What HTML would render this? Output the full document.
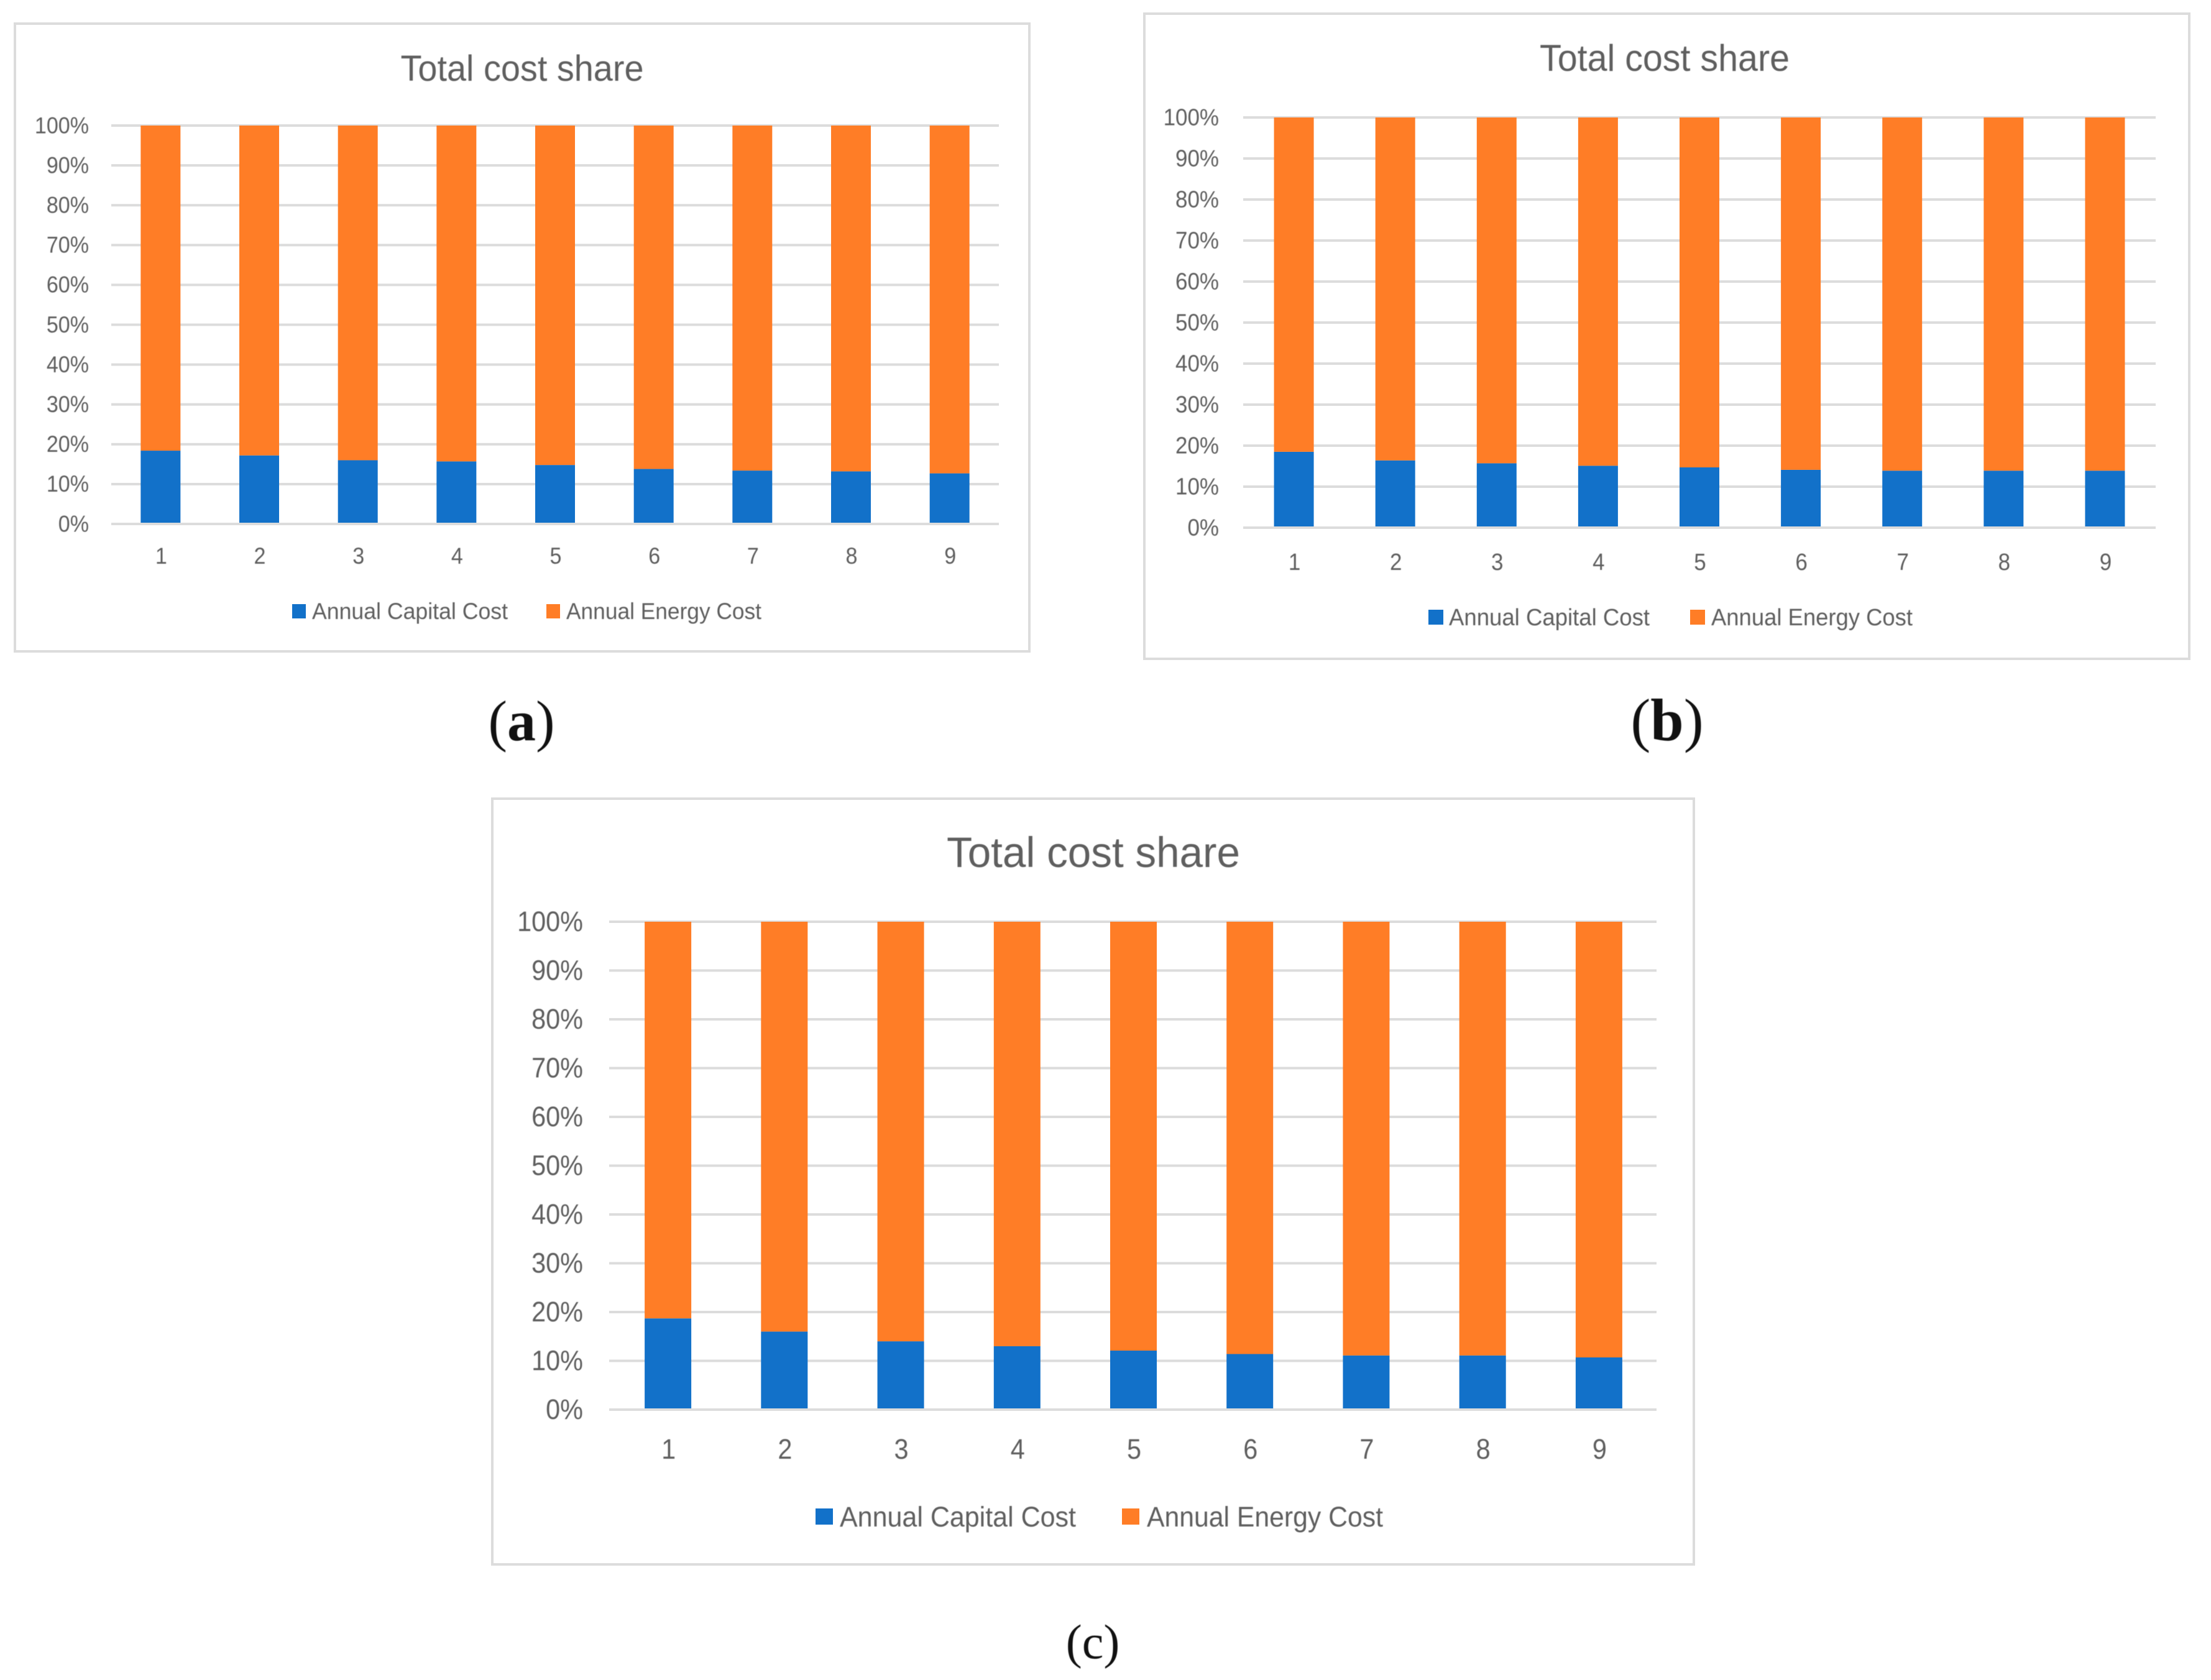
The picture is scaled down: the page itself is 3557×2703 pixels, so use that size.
<!DOCTYPE html>
<html lang="en">
<head>
<meta charset="utf-8">
<title>Total cost share</title>
<style>
html,body{margin:0;padding:0;background:#fff;width:3557px;height:2703px;overflow:hidden}
svg{display:block}
text{font-family:"Liberation Sans",sans-serif;fill:#5f5f5f;filter:blur(.6px)}
text.cap{font-family:"Liberation Serif",serif;fill:#111}
</style>
</head>
<body>
<svg id="figure" xmlns="http://www.w3.org/2000/svg" width="3557" height="2703" viewBox="0 0 3557 2703"></svg>
<script>
const categories = ['1','2','3','4','5','6','7','8','9'];
const tickValues = [0,10,20,30,40,50,60,70,80,90,100];
const tickLabels = ['0%','10%','20%','30%','40%','50%','60%','70%','80%','90%','100%'];
const capitalA = [18.4,17.2,16.0,15.7,14.8,13.8,13.4,13.2,12.7];
const energyA  = [81.6,82.8,84.0,84.3,85.2,86.2,86.6,86.8,87.3];
const capitalB = [18.5,16.4,15.7,15.1,14.7,14.1,13.9,13.9,13.9];
const energyB  = [81.5,83.6,84.3,84.9,85.3,85.9,86.1,86.1,86.1];
const capitalC = [18.7,16.0,14.0,13.0,12.1,11.4,11.1,11.1,10.7];
const energyC  = [81.3,84.0,86.0,87.0,87.9,88.6,88.9,88.9,89.3];
const seriesNames = ['Annual Capital Cost','Annual Energy Cost'];
const chartTitle = 'Total cost share';

const BLUE = '#1271c9', ORANGE = '#ff7d26', GRID = '#dcdcdc';
const svg = document.getElementById('figure');
const NS = 'http://www.w3.org/2000/svg';
function rect(p, x, y, w, h, fill) {
  const r = document.createElementNS(NS, 'rect');
  r.setAttribute('x', x); r.setAttribute('y', y);
  r.setAttribute('width', w); r.setAttribute('height', h);
  r.setAttribute('fill', fill);
  p.appendChild(r);
  return r;
}
function label(p, str, x, y, size, anchor, len) {
  const t = document.createElementNS(NS, 'text');
  t.textContent = str;
  t.setAttribute('x', x); t.setAttribute('y', y);
  t.setAttribute('font-size', size);
  t.setAttribute('text-anchor', anchor);
  p.appendChild(t);
  const target = len || t.getComputedTextLength() * 0.92;
  t.setAttribute('textLength', target);
  t.setAttribute('lengthAdjust', 'spacingAndGlyphs');
  return t;
}
function caption(p, letter, x, y, size, letterWeight) {
  const t = document.createElementNS(NS, 'text');
  t.setAttribute('x', x); t.setAttribute('y', y);
  t.setAttribute('font-size', size);
  t.setAttribute('text-anchor', 'middle');
  t.setAttribute('class', 'cap');
  ['(', letter, ')'].forEach((s, i) => {
    const sp = document.createElementNS(NS, 'tspan');
    sp.textContent = s;
    sp.setAttribute('font-weight', i === 1 ? letterWeight : 'normal');
    t.appendChild(sp);
  });
  p.appendChild(t);
  return t;
}
function drawPanel(cfg, capital, energy) {
  const g = document.createElementNS(NS, 'g');
  
  
  svg.appendChild(g);

  const frame = rect(g, cfg.fl, cfg.ft, cfg.fr - cfg.fl, cfg.fb - cfg.ft, '#fff');
  frame.setAttribute('stroke', GRID);
  frame.setAttribute('stroke-width', 4);
  
  

  const title = label(g, chartTitle, cfg.titleX, cfg.titleY, cfg.titleSize, 'middle', cfg.titleW);
  
  

  const yOf = v => cfg.y0 + (cfg.y100 - cfg.y0) * v / 100;
  const step = (cfg.gr - cfg.gl) / categories.length;
  const xOf = i => cfg.gl + step * (i + 0.5) + cfg.shift;

  tickValues.forEach((v, i) => {
    const line = rect(g, cfg.gl, yOf(v) - 2, cfg.gr - cfg.gl, 4, GRID);
    
    
    const tl = label(g, tickLabels[i], cfg.tickR, yOf(v) + cfg.tickSize * 0.36 - 1, cfg.tickSize, 'end');
    
    
  });

  categories.forEach((c, i) => {
    const x = xOf(i) - cfg.barW / 2;
    const blue = rect(g, x, yOf(capital[i]), cfg.barW, yOf(0) - yOf(capital[i]) - 2, BLUE);
    
    
    const orange = rect(g, x, yOf(capital[i] + energy[i]), cfg.barW, yOf(capital[i]) - yOf(capital[i] + energy[i]), ORANGE);
    
    
    const xl = label(g, c, xOf(i) + 1, cfg.xLabelY, cfg.tickSize, 'middle');
    
    
  });

  const sw1 = rect(g, cfg.leg[0], cfg.swT, cfg.swW, cfg.swH, BLUE);
  
  
  const lt1 = label(g, seriesNames[0], cfg.leg[1], cfg.legY, cfg.legSize, 'start', cfg.leg[2]);
  
  
  const sw2 = rect(g, cfg.leg[3], cfg.swT, cfg.swW, cfg.swH, ORANGE);
  
  
  const lt2 = label(g, seriesNames[1], cfg.leg[4], cfg.legY, cfg.legSize, 'start', cfg.leg[5]);
  
  

  const cap = caption(g, cfg.capText, cfg.capX, cfg.capY, cfg.capSize, cfg.capWeight);
  
  
}

drawPanel({id:'a', fl:24, ft:38, fr:1656, fb:1048, titleX:840, titleY:130, titleSize:58, titleW:391,
  gl:179, gr:1607, y0:843, y100:202, shift:0, barW:64, tickR:143, tickSize:37, xLabelY:907,
  leg:[470,502,315,879,911,314], swT:972, swW:22, swH:23, legY:996, legSize:37,
  capText:'a', capX:839, capY:1191, capSize:92, capWeight:'bold'}, capitalA, energyA);

drawPanel({id:'b', fl:1841, ft:22, fr:3522, fb:1060, titleX:2678, titleY:114, titleSize:60, titleW:402,
  gl:2000, gr:3468, y0:849, y100:189, shift:0, barW:64, tickR:1961, tickSize:38, xLabelY:917,
  leg:[2298,2331,323,2719,2753,324], swT:981, swW:24, swH:24, legY:1006, legSize:38,
  capText:'b', capX:2682, capY:1191, capSize:96, capWeight:'bold'}, capitalB, energyB);

drawPanel({id:'c', fl:792, ft:1285, fr:2725, fb:2517, titleX:1759, titleY:1395, titleSize:69, titleW:472,
  gl:980, gr:2665, y0:2268, y100:1483, shift:1, barW:75, tickR:938, tickSize:45, xLabelY:2347,
  leg:[1312,1351,380,1805,1845,380], swT:2427, swW:28, swH:26, legY:2456, legSize:45,
  capText:'c', capX:1758, capY:2668, capSize:78, capWeight:'normal'}, capitalC, energyC);
</script>
</body>
</html>
